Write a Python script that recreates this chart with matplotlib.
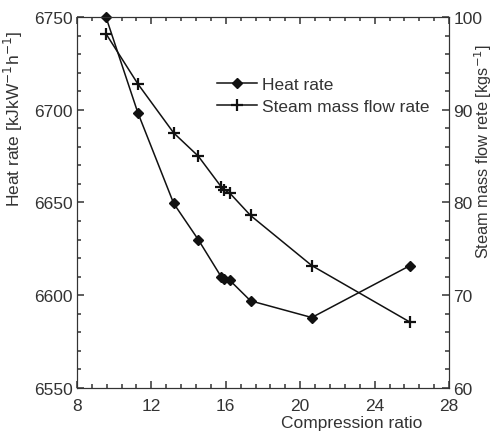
import numpy as np
import matplotlib
matplotlib.use("Agg")
import matplotlib.pyplot as plt
from matplotlib.ticker import MultipleLocator

# ── Data ─────────────────────────────────────────────────────
compression_ratio = [9.56, 11.27, 13.2, 14.52, 15.75, 15.93, 16.22, 17.33, 20.62, 25.9]
heat_rate = [6750, 6698.5, 6649.5, 6630, 6610, 6608.5, 6608, 6597, 6588, 6616]
steam_flow = [98.2, 92.8, 87.5, 85.0, 81.7, 81.35, 81.0, 78.6, 73.2, 67.1]

x_ticks = [8, 12, 16, 20, 24, 28]
hr_ticks = [6550, 6600, 6650, 6700, 6750]
sf_ticks = [60, 70, 80, 90, 100]

# ── Style ────────────────────────────────────────────────────
TXT = "#333333"
EDGE = "#333333"
plt.rcParams.update({
    "font.family": ["Liberation Sans", "DejaVu Sans"],
    "font.size": 12.5,
    "text.color": TXT,
    "axes.labelcolor": TXT,
    "axes.edgecolor": EDGE,
})

fig = plt.figure(figsize=(4.93, 4.35), dpi=100)
ax = fig.add_axes([0.156, 0.1057, 0.755, 0.853])
ax2 = ax.twinx()

l1, = ax.plot(compression_ratio, heat_rate, color="#111111", lw=1.1,
              marker="D", markersize=5, label="Heat rate", clip_on=False)
l2, = ax2.plot(compression_ratio, steam_flow, color="#111111", lw=1.1,
               marker="+", markersize=8, markeredgewidth=1.6,
               label="Steam mass flow rate")

ax.set_xlim(8, 28)
ax.set_ylim(6550, 6750)
ax2.set_ylim(60, 100)
ax.set_xticks(x_ticks)
ax.set_yticks(hr_ticks)
ax2.set_yticks(sf_ticks)
ax.xaxis.set_minor_locator(MultipleLocator(0.8))
ax.yaxis.set_minor_locator(MultipleLocator(10))
ax2.yaxis.set_minor_locator(MultipleLocator(2))

for a in (ax, ax2):
    a.tick_params(which="both", direction="in", color=EDGE,
                  labelcolor=TXT, labelsize=12.5)
    a.tick_params(which="major", length=5, width=1.1)
    a.tick_params(which="minor", length=2.8, width=1.1)
ax.tick_params(which="both", top=True, right=False)
ax.tick_params(axis="x", pad=7)
ax.tick_params(axis="y", pad=3)
ax2.tick_params(axis="y", pad=3)

ax.set_xlabel("Compression ratio")
ax.set_ylabel(r"Heat rate [kJkW$^{-1}$h$^{-1}$]")
ax2.set_ylabel(r"Steam mass flow rete [kgs$^{-1}$]", fontsize=11.8)
ax.xaxis.set_label_coords(0.739, -0.072)
ax.yaxis.set_label_coords(-0.14, 0.728)
ax2.yaxis.set_label_coords(1.061, 0.641)

ax.legend(handles=[l1, l2], loc="upper left", bbox_to_anchor=(0.376, 0.838),
          frameon=False, borderpad=0, borderaxespad=0, handlelength=2.3,
          handletextpad=0.3, labelspacing=0.4, fontsize=12.5)

fig.savefig("out.png", dpi=100)
